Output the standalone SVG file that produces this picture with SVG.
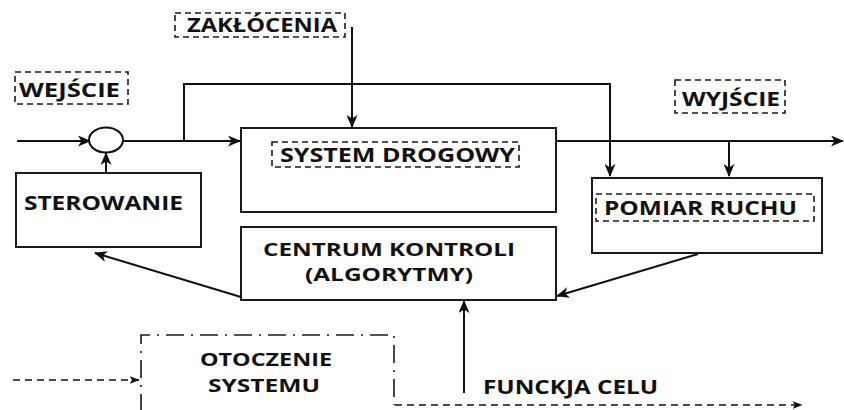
<svg xmlns="http://www.w3.org/2000/svg" width="844" height="410" viewBox="0 0 844 410">
<style>
.box{fill:#fff;stroke:#1a1a1a;stroke-width:2}
.lbl{fill:none;stroke:#1a1a1a;stroke-width:1.6;stroke-dasharray:6 4}
.env{fill:none;stroke:#1a1a1a;stroke-width:1.6;stroke-dasharray:18 7 2 7}
.t{font-family:"Open Sans","Liberation Sans",sans-serif;font-weight:bold;font-size:19px;fill:#111}
.t2{font-size:18px}
.ln{fill:none;stroke:#111;stroke-width:2}
.dl{fill:none;stroke:#111;stroke-width:1.6;stroke-dasharray:7 5}
</style>
<defs>
<marker id="ah" viewBox="0 0 13 11" refX="12" refY="5.5" markerWidth="13" markerHeight="11" markerUnits="userSpaceOnUse" orient="auto">
<path d="M0,0 L13,5.5 L0,11 L3.5,5.5 z" fill="#111"/>
</marker>
<marker id="ahs" viewBox="0 0 10 8" refX="9.5" refY="4" markerWidth="10" markerHeight="8" markerUnits="userSpaceOnUse" orient="auto">
<path d="M0,0 L10,4 L0,8 L2.5,4 z" fill="#111"/>
</marker>
</defs>

<g id="connectors">
<line class="ln" x1="17" y1="141" x2="90" y2="141" marker-end="url(#ah)"/>
<line class="ln" x1="123" y1="141" x2="240" y2="141" marker-end="url(#ah)"/>
<polyline class="ln" points="184,141 184,84 610,84 610,176" marker-end="url(#ah)"/>
<line class="ln" x1="352" y1="27" x2="352" y2="127" marker-end="url(#ah)"/>
<line class="ln" x1="556" y1="141" x2="843" y2="141" marker-end="url(#ah)"/>
<line class="ln" x1="729" y1="141" x2="729" y2="176" marker-end="url(#ah)"/>
<line class="ln" x1="106" y1="173" x2="106" y2="153" marker-end="url(#ah)"/>
<line class="ln" x1="241" y1="297" x2="95" y2="253" marker-end="url(#ah)"/>
<line class="ln" x1="698" y1="254" x2="557" y2="296" marker-end="url(#ah)"/>
<line class="ln" x1="464" y1="393" x2="464" y2="301" marker-end="url(#ah)"/>
<line class="dl" x1="13" y1="380" x2="139" y2="380" marker-end="url(#ahs)"/>
<line class="dl" x1="395" y1="405" x2="802" y2="405" marker-end="url(#ahs)"/>
</g>

<g id="sumator">
<ellipse cx="106" cy="140" rx="17" ry="12.5" fill="none" stroke="#111" stroke-width="2"/>
</g>

<g id="zaklocenia">
<rect class="lbl" x="175" y="13" width="170" height="24"/>
<text class="t" x="187" y="32" textLength="150" lengthAdjust="spacingAndGlyphs">ZAKŁÓCENIA</text>
</g>

<g id="wejscie">
<rect class="lbl" x="15" y="72" width="113" height="32"/>
<text class="t" x="19" y="97" textLength="101" lengthAdjust="spacingAndGlyphs">WEJŚCIE</text>
</g>

<g id="wyjscie">
<rect class="lbl" x="675" y="80" width="110" height="33"/>
<text class="t" x="682" y="106" textLength="98" lengthAdjust="spacingAndGlyphs">WYJŚCIE</text>
</g>

<g id="system-drogowy">
<rect class="box" x="241" y="128" width="315" height="84"/>
<rect class="lbl" x="272" y="142" width="247" height="25"/>
<text class="t" x="280" y="162" textLength="235" lengthAdjust="spacingAndGlyphs">SYSTEM DROGOWY</text>
</g>

<g id="pomiar-ruchu">
<rect class="box" x="592" y="178" width="230" height="75"/>
<rect class="lbl" x="596" y="194" width="218" height="27"/>
<text class="t" x="604" y="215" textLength="193" lengthAdjust="spacingAndGlyphs">POMIAR RUCHU</text>
</g>

<g id="sterowanie">
<rect class="box" x="16" y="173" width="185" height="74"/>
<text class="t" x="24" y="210" textLength="159" lengthAdjust="spacingAndGlyphs">STEROWANIE</text>
</g>

<g id="centrum-kontroli">
<rect class="box" x="241" y="227" width="315" height="73"/>
<text class="t t2" x="263" y="256" textLength="252" lengthAdjust="spacingAndGlyphs">CENTRUM KONTROLI</text>
<text class="t t2" x="305" y="281" textLength="168" lengthAdjust="spacingAndGlyphs">(ALGORYTMY)</text>
</g>

<g id="otoczenie-systemu">
<polyline class="env" points="141,412 141,335 394,335 394,405"/>
<text class="t t2" x="200" y="366" textLength="132" lengthAdjust="spacingAndGlyphs">OTOCZENIE</text>
<text class="t t2" x="208" y="392" textLength="112" lengthAdjust="spacingAndGlyphs">SYSTEMU</text>
</g>

<g id="funkcja-celu">
<text class="t" x="483" y="394" textLength="175" lengthAdjust="spacingAndGlyphs">FUNCKJA CELU</text>
</g>
</svg>
